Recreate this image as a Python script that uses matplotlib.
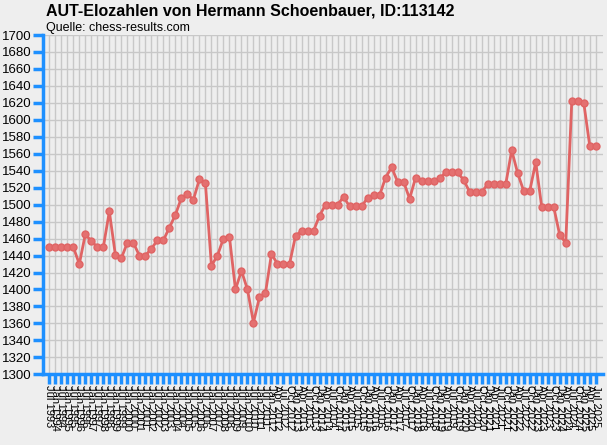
import matplotlib
matplotlib.use("Agg")
import matplotlib.pyplot as plt

plt.rcParams['font.family'] = ['Liberation Sans', 'DejaVu Sans']

# rating lists: half-yearly up to Jan 2012, then quarterly
half_year_lists = [("Jul", 1993)] + [(m, y) for y in range(1994, 2012) for m in ("Jan", "Jul")] + [("Jan", 2012)]
quarter_lists = [(m, y) for y in range(2012, 2026) for m in ("Jan", "Apr", "Jul", "Oct")]
quarter_lists = quarter_lists[1:quarter_lists.index(("Jul", 2025)) + 1]
labels = [f"{m} {y}" for m, y in half_year_lists + quarter_lists]

elo = [1450, 1450, 1450, 1450, 1450, 1430, 1465, 1457, 1450, 1450,
       1492, 1441, 1437, 1455, 1455, 1440, 1440, 1448, 1458, 1458,
       1473, 1488, 1508, 1512, 1506, 1530, 1525, 1428, 1440, 1460,
       1462, 1400, 1422, 1400, 1361, 1391, 1396, 1442, 1430, 1430,
       1430, 1463, 1469, 1469, 1469, 1487, 1500, 1500, 1500, 1509,
       1498, 1498, 1498, 1508, 1511, 1511, 1532, 1544, 1527, 1527,
       1507, 1532, 1528, 1528, 1528, 1531, 1538, 1538, 1538, 1529,
       1515, 1515, 1515, 1524, 1524, 1524, 1524, 1564, 1537, 1516,
       1516, 1550, 1497, 1497, 1497, 1464, 1455, 1622, 1622, 1620,
       1569, 1569]

title = "AUT-Elozahlen von Hermann Schoenbauer, ID:113142"
subtitle = "Quelle: chess-results.com"

bg = '#eeeeee'
blue = '#1e90ff'
red = '#e06464'

fig = plt.figure(figsize=(6.07, 4.45), dpi=100, facecolor=bg)
ax = fig.add_axes([0.0708, 0.1589, 0.9226, 0.7624], facecolor=bg)

x = list(range(len(elo)))
ax.plot(x, elo, color=red, linewidth=2, marker='o', markersize=5,
        markerfacecolor='#e47070', markeredgecolor=red, zorder=3)

ax.set_xlim(-1.05, len(elo) + 0.2)
ax.set_ylim(1300, 1700)
ax.set_yticks(range(1300, 1701, 20))
ax.set_xticks(x)
ax.set_xticklabels(labels, rotation=270, fontsize=8, va='top', ha='center')
ax.tick_params(axis='y', labelsize=9.5, colors=blue, labelcolor='black', length=7, width=2.5, pad=1)
ax.tick_params(axis='x', colors=blue, labelcolor='black', length=7, width=2.5, pad=1)

ax.grid(True, color='#c8c8c8', linewidth=1)
ax.set_axisbelow(True)
for side in ('top', 'right'):
    ax.spines[side].set_visible(False)
for side in ('left', 'bottom'):
    ax.spines[side].set_color(blue)
    ax.spines[side].set_linewidth(2.5)

fig.text(46 / 607, 1 - 16 / 445, title, fontsize=11.5, fontweight='bold', ha='left', va='baseline')
fig.text(46 / 607, 1 - 31.5 / 445, subtitle, fontsize=9, ha='left', va='baseline')

fig.savefig("out.png", dpi=100, facecolor=bg)
